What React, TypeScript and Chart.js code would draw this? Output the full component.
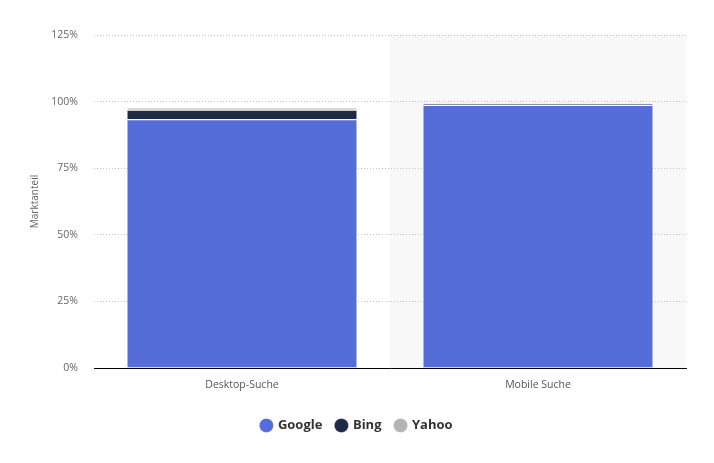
import React, { useEffect, useRef } from "react";
import { Chart, registerables } from "chart.js";

Chart.register(...registerables);

const categories = ["Desktop-Suche", "Mobile Suche"];
const googleValues = [93.4, 98.7];
const bingValues = [3.5, 0.4];
const yahooValues = [0.9, 0.1];
const yTicks = [0, 25, 50, 75, 100, 125];

const highlightPlugin = {
  id: "highlightBand",
  beforeDraw(chart: any) {
    const { ctx, chartArea, scales } = chart;
    const x = scales.x;
    const band = (x.right - x.left) / categories.length;
    const cx = x.getPixelForValue(1);
    ctx.save();
    ctx.fillStyle = "#f8f8f8";
    ctx.fillRect(cx - band / 2, chartArea.top - 1, band, chartArea.bottom - chartArea.top + 1);
    ctx.restore();
  },
};

export default function App() {
  const ref = useRef<HTMLCanvasElement>(null);
  useEffect(() => {
    if (!ref.current) return;
    const border = { top: 1, right: 0, bottom: 0, left: 0 };
    const chart = new Chart(ref.current, {
      type: "bar",
      data: {
        labels: categories,
        datasets: [
          { label: "Google", data: googleValues, backgroundColor: "#556dd9", borderColor: "#ffffff", borderWidth: border, borderSkipped: false },
          { label: "Bing", data: bingValues, backgroundColor: "#1f2a44", borderColor: "#ffffff", borderWidth: border, borderSkipped: false },
          { label: "Yahoo", data: yahooValues, backgroundColor: "#b4b4b4", borderColor: "#ffffff", borderWidth: border, borderSkipped: false },
        ],
      },
      options: {
        animation: false,
        responsive: true,
        maintainAspectRatio: false,
        layout: { padding: { top: 35, right: 0, bottom: 21, left: 0 } },
        datasets: { bar: { categoryPercentage: 1, barPercentage: 0.775 } },
        plugins: {
          legend: {
            position: "bottom",
            labels: {
              usePointStyle: true,
              pointStyle: "circle",
              boxWidth: 10,
              boxHeight: 10,
              padding: 14,
              color: "#333333",
              font: { family: "'Open Sans', Arial, sans-serif", size: 13, weight: "bold" },
            },
          },
          tooltip: { enabled: false },
        },
        scales: {
          x: {
            stacked: true,
            grid: { display: false },
            border: { display: true, color: "#000000", width: 1 },
            ticks: { color: "#555555", padding: 3, font: { family: "'Open Sans', Arial, sans-serif", size: 10.5 } },
            afterFit(scale: any) {
              scale.height = 37;
            },
          },
          y: {
            stacked: true,
            min: 0,
            max: 125,
            afterBuildTicks(scale: any) {
              scale.ticks = yTicks.map((v) => ({ value: v }));
            },
            ticks: {
              color: "#666666",
              padding: 16,
              font: { family: "'Open Sans', Arial, sans-serif", size: 10.5 },
              callback: (v: any) => v + "%",
            },
            grid: { drawTicks: false, color: "#c4c4c4", lineWidth: 1 },
            border: { display: false, dash: [1, 2] },
            title: {
              display: true,
              text: "Marktanteil",
              color: "#666666",
              padding: { top: 29, bottom: 0 },
              font: { family: "'Open Sans', Arial, sans-serif", size: 10 },
            },
            afterFit(scale: any) {
              scale.width = 94;
            },
          },
          yRight: {
            position: "right",
            display: true,
            min: 0,
            max: 125,
            grid: { display: false, drawTicks: false },
            border: { display: false },
            ticks: { display: false },
            afterFit(scale: any) {
              scale.width = 28;
            },
          },
        },
      },
      plugins: [highlightPlugin],
    } as any);
    return () => chart.destroy();
  }, []);
  return (
    <div style={{ position: "fixed", left: 0, top: 0, width: 714, height: 463, background: "#fff" }}>
      <canvas ref={ref} />
    </div>
  );
}
